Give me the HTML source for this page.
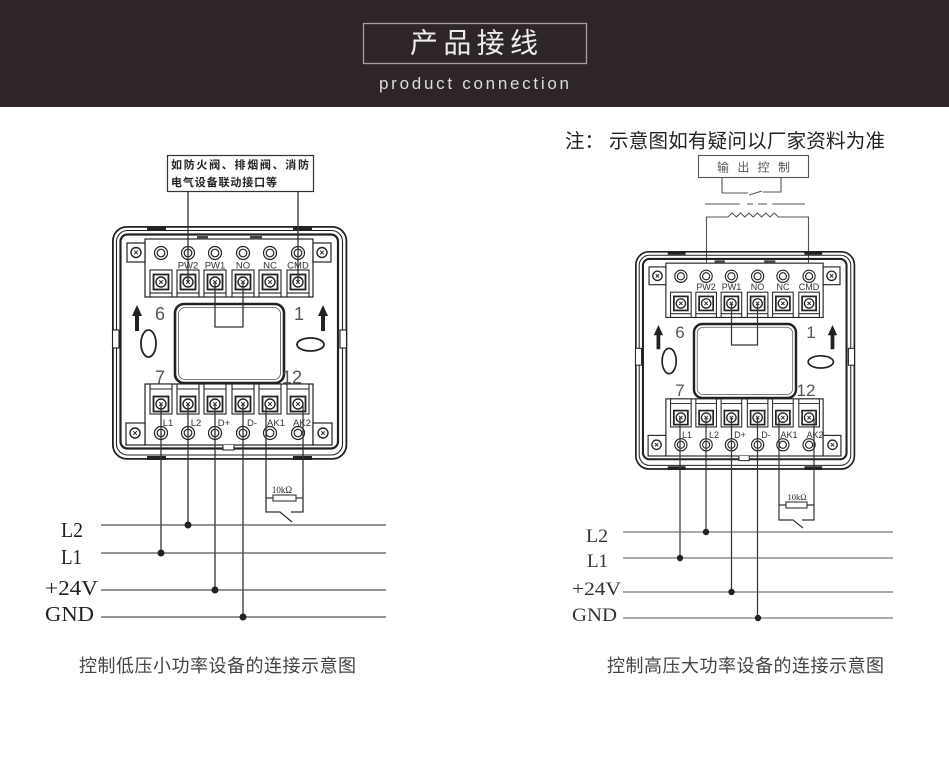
<!DOCTYPE html>
<html><head><meta charset="utf-8"><style>html,body{margin:0;padding:0;background:#fff}svg{display:block}</style></head>
<body>
<svg width="949" height="769" viewBox="0 0 949 769" xmlns="http://www.w3.org/2000/svg">
<defs>
<g id="scr"><circle r="5" fill="#fff" stroke="#222" stroke-width="1.4"/><path d="M-1.8-1.8L1.8 1.8M1.8-1.8L-1.8 1.8" stroke="#222" stroke-width="1"/></g>
<g id="dc"><circle r="6.5" fill="#fff" stroke="#222" stroke-width="1.2"/><circle r="3.8" fill="none" stroke="#222" stroke-width="1.2"/></g>
<g id="tbT"><rect x="-11" y="44" width="22" height="23" fill="#fff" stroke="#222" stroke-width="1.1"/><path d="M-11 67v4M11 67v4" stroke="#222" stroke-width="1.1"/><rect x="-7.5" y="48.5" width="15" height="15" fill="#fff" stroke="#222" stroke-width="1.8"/><use href="#scr" y="56"/></g>
<g id="tbB"><rect x="-11" y="158" width="22" height="30" fill="#fff" stroke="#222" stroke-width="1.1"/><path d="M-11 163h22" stroke="#222" stroke-width="1"/><rect x="-7.5" y="170.5" width="15" height="15" fill="#fff" stroke="#222" stroke-width="1.8"/><use href="#scr" y="178"/></g>
<g id="dev">
<g fill="none" stroke="#222">
<rect x="0.9" y="0.9" width="233.5" height="232" rx="14" stroke-width="1.8"/>
<rect x="4.5" y="4.5" width="226" height="224.5" rx="11" stroke-width="1.1"/>
<rect x="8.5" y="8.5" width="217.5" height="214" rx="7" stroke-width="2.2"/>
</g>
<g fill="#222">
<rect x="35" y="0" width="19" height="4"/><rect x="181" y="0" width="19" height="4"/>
<rect x="35" y="230" width="19" height="4"/><rect x="181" y="230" width="19" height="4"/>
</g>
<rect x="0.5" y="104" width="6.5" height="18" fill="#fff" stroke="#222" stroke-width="1.1"/>
<rect x="228" y="104" width="6.5" height="18" fill="#fff" stroke="#222" stroke-width="1.1"/>
<!-- top block -->
<rect x="33" y="13" width="168" height="58" fill="#fff" stroke="#222" stroke-width="1.2"/>
<rect x="85" y="10" width="11" height="3.5" fill="#444"/><rect x="138" y="10" width="12" height="3.5" fill="#444"/>
<rect x="15" y="17" width="18" height="19" fill="#fff" stroke="#222" stroke-width="1.2"/>
<rect x="201" y="17" width="18" height="19" fill="#fff" stroke="#222" stroke-width="1.2"/>
<use href="#scr" x="24" y="26.5"/><use href="#scr" x="210" y="26.5"/>
<use href="#dc" x="49" y="27"/><use href="#dc" x="76" y="27"/><use href="#dc" x="103" y="27"/><use href="#dc" x="131" y="27"/><use href="#dc" x="158" y="27"/><use href="#dc" x="186" y="27"/>
<use href="#tbT" x="49"/><use href="#tbT" x="76"/><use href="#tbT" x="103"/><use href="#tbT" x="131"/><use href="#tbT" x="158"/><use href="#tbT" x="186"/>
<!-- window -->
<rect x="63" y="78" width="109" height="79" rx="9" fill="#fff" stroke="#222" stroke-width="2.6"/>
<rect x="66.5" y="81.5" width="102" height="72" rx="6.5" fill="none" stroke="#555" stroke-width="0.8"/>
<!-- ovals, arrows -->
<ellipse cx="36.5" cy="117.5" rx="7.5" ry="13.5" fill="none" stroke="#222" stroke-width="1.8"/>
<ellipse cx="198.5" cy="118.5" rx="13.5" ry="6.5" fill="none" stroke="#222" stroke-width="1.8"/>
<path d="M20 90L25 79L30 90Z M23 89h4v16h-4Z" fill="#222"/>
<path d="M206 90L211 79L216 90Z M209 89h4v16h-4Z" fill="#222"/>
<!-- bottom block -->
<rect x="33" y="158" width="168" height="61" fill="#fff" stroke="#222" stroke-width="1.2"/>
<path d="M111 219v5h11v-5" fill="#fff" stroke="#222" stroke-width="1.1"/>
<rect x="14" y="197" width="19" height="22" fill="#fff" stroke="#222" stroke-width="1.2"/>
<rect x="201" y="197" width="19" height="22" fill="#fff" stroke="#222" stroke-width="1.2"/>
<use href="#scr" x="23" y="207"/><use href="#scr" x="211" y="207"/>
<use href="#tbB" x="49"/><use href="#tbB" x="76"/><use href="#tbB" x="103"/><use href="#tbB" x="131"/><use href="#tbB" x="158"/><use href="#tbB" x="186"/>
<use href="#dc" x="49" y="207"/><use href="#dc" x="76" y="207"/><use href="#dc" x="103" y="207"/><use href="#dc" x="131" y="207"/><use href="#dc" x="158" y="207"/><use href="#dc" x="186" y="207"/>
</g>
</defs>

<!-- header -->
<rect x="0" y="0" width="949" height="107" fill="#2e2626"/>
<rect x="363.5" y="23.5" width="223" height="40" fill="none" stroke="#a59f9f" stroke-width="1.3"/>
<text x="410" y="52.5" font-family="'Liberation Sans','Noto Sans CJK SC',sans-serif" font-size="28" fill="#ececec" textLength="128" lengthAdjust="spacing">产品接线</text>
<text x="379" y="89" font-family="'Liberation Sans',sans-serif" font-size="17" fill="#dcdcdc" textLength="190" lengthAdjust="spacing">product connection</text>

<!-- LEFT DIAGRAM -->
<use href="#dev" transform="translate(112,226)"/>
<g font-family="'Liberation Sans',sans-serif" fill="#333" font-size="9.5" text-anchor="middle">
<text x="188" y="268.5">PW2</text><text x="215" y="268.5">PW1</text><text x="243" y="268.5">NO</text><text x="270" y="268.5">NC</text><text x="298" y="268.5">CMD</text>
<text x="168" y="426">L1</text><text x="196" y="426">L2</text><text x="224" y="426">D+</text><text x="252" y="426">D-</text><text x="276" y="426">AK1</text><text x="302" y="426">AK2</text>
</g>
<g font-family="'Liberation Sans',sans-serif" fill="#555" font-size="18" text-anchor="middle">
<text x="160" y="320">6</text><text x="299" y="320">1</text><text x="160" y="383.5">7</text><text x="292" y="383.5">12</text>
</g>
<rect x="167.5" y="155.5" width="146" height="36" fill="#fff" stroke="#333" stroke-width="1.2"/>
<g font-family="'Liberation Sans','Noto Sans CJK SC',sans-serif" font-size="11" font-weight="bold" fill="#222">
<text x="171" y="168.5" textLength="138" lengthAdjust="spacing">如防火阀、排烟阀、消防</text>
<text x="171" y="186" textLength="106" lengthAdjust="spacing">电气设备联动接口等</text>
</g>
<g fill="none" stroke="#333" stroke-width="1.3">
<path d="M188 191.5V282M298 191.5V282"/>
<path d="M215 282V327H243V282"/>
<path d="M161 404V553M188 404V525M215 404V590M243 404V617"/>
<path d="M266 406V512H280L292 522M303 406V512H291"/>
<path d="M266 498H273M296 498H303"/>
</g>
<rect x="273" y="495" width="23" height="6" fill="#fff" stroke="#333" stroke-width="1.1"/>
<text x="282" y="493" font-family="'Liberation Serif',serif" font-size="9" fill="#222" text-anchor="middle">10kΩ</text>
<g stroke="#555" stroke-width="1.2"><path d="M101 525H386M101 553H386M101 590H386M101 617H386"/></g>
<g fill="#222"><circle cx="188" cy="525" r="3.5"/><circle cx="161" cy="553" r="3.5"/><circle cx="215" cy="590" r="3.5"/><circle cx="243" cy="617" r="3.5"/></g>
<g font-family="'Liberation Serif',serif" font-size="21" fill="#222">
<text x="61" y="537" textLength="22" lengthAdjust="spacingAndGlyphs">L2</text>
<text x="61" y="564" textLength="21" lengthAdjust="spacingAndGlyphs">L1</text>
<text x="45" y="595" textLength="53" lengthAdjust="spacingAndGlyphs">+24V</text>
<text x="45" y="621" textLength="49" lengthAdjust="spacingAndGlyphs">GND</text>
</g>
<text x="79" y="672" font-family="'Liberation Sans','Noto Sans CJK SC',sans-serif" font-size="18" fill="#444" textLength="277" lengthAdjust="spacing">控制低压小功率设备的连接示意图</text>

<!-- RIGHT DIAGRAM -->
<text x="565" y="147.5" font-family="'Liberation Sans','Noto Sans CJK SC',sans-serif" font-size="19.5" fill="#222">注：</text>
<text x="609" y="147.5" font-family="'Liberation Sans','Noto Sans CJK SC',sans-serif" font-size="19.5" fill="#222" textLength="276" lengthAdjust="spacing">示意图如有疑问以厂家资料为准</text>
<rect x="698.5" y="155.5" width="110" height="22" fill="#fff" stroke="#555" stroke-width="1.1"/>
<text x="717" y="171.5" font-family="'Liberation Sans','Noto Sans CJK SC',sans-serif" font-size="12" fill="#555" textLength="73" lengthAdjust="spacing">输出控制</text>
<g fill="none" stroke="#555" stroke-width="1.1">
<path d="M722 178V193H748M781 178V192H763M749 195L762 191"/>
<path d="M705 204H740M747 204H753M758 204H767M772 204H805"/>
<path d="M706.5 303V217H728l4.2-4 4.2 4 4.2-4 4.2 4 4.2-4 4.2 4 4.2-4 4.2 4 4.2-4 4.2 4 4.2-4 4.2 4H808.5V303"/>
</g>
<use href="#dev" transform="translate(635,251) scale(0.936)"/>
<g font-family="'Liberation Sans',sans-serif" fill="#333" font-size="9" text-anchor="middle">
<text x="706" y="290">PW2</text><text x="731.5" y="290">PW1</text><text x="757.5" y="290">NO</text><text x="783" y="290">NC</text><text x="809" y="290">CMD</text>
<text x="687" y="438">L1</text><text x="714" y="438">L2</text><text x="740" y="438">D+</text><text x="766" y="438">D-</text><text x="789" y="438">AK1</text><text x="815" y="438">AK2</text>
</g>
<g font-family="'Liberation Sans',sans-serif" fill="#555" font-size="17" text-anchor="middle">
<text x="680" y="338">6</text><text x="811" y="338">1</text><text x="680" y="396">7</text><text x="806" y="396">12</text>
</g>
<g fill="none" stroke="#333" stroke-width="1.2">
<path d="M731.5 303V345H757.5V303"/>
<path d="M680 417V558M706 417V532M731.5 417V592M757.5 417V618"/>
<path d="M779 418V520H793L803 528M814 418V520H802"/>
<path d="M779 505H786M807 505H814"/>
</g>
<rect x="786" y="502" width="21" height="6" fill="#fff" stroke="#333" stroke-width="1.1"/>
<text x="797" y="500" font-family="'Liberation Serif',serif" font-size="8.5" fill="#222" text-anchor="middle">10kΩ</text>
<g stroke="#555" stroke-width="1.1"><path d="M623 532H893M623 558H893M623 592H893M623 618H893"/></g>
<g fill="#222"><circle cx="706" cy="532" r="3.2"/><circle cx="680" cy="558" r="3.2"/><circle cx="731.5" cy="592" r="3.2"/><circle cx="758" cy="618" r="3.2"/></g>
<g font-family="'Liberation Serif',serif" font-size="19" fill="#333">
<text x="586" y="542" textLength="22" lengthAdjust="spacingAndGlyphs">L2</text>
<text x="587" y="567" textLength="21" lengthAdjust="spacing">L1</text>
<text x="572" y="595" textLength="49" lengthAdjust="spacingAndGlyphs">+24V</text>
<text x="572" y="621" textLength="45" lengthAdjust="spacingAndGlyphs">GND</text>
</g>
<text x="607" y="672" font-family="'Liberation Sans','Noto Sans CJK SC',sans-serif" font-size="18" fill="#444" textLength="277" lengthAdjust="spacing">控制高压大功率设备的连接示意图</text>
</svg>
</body></html>
